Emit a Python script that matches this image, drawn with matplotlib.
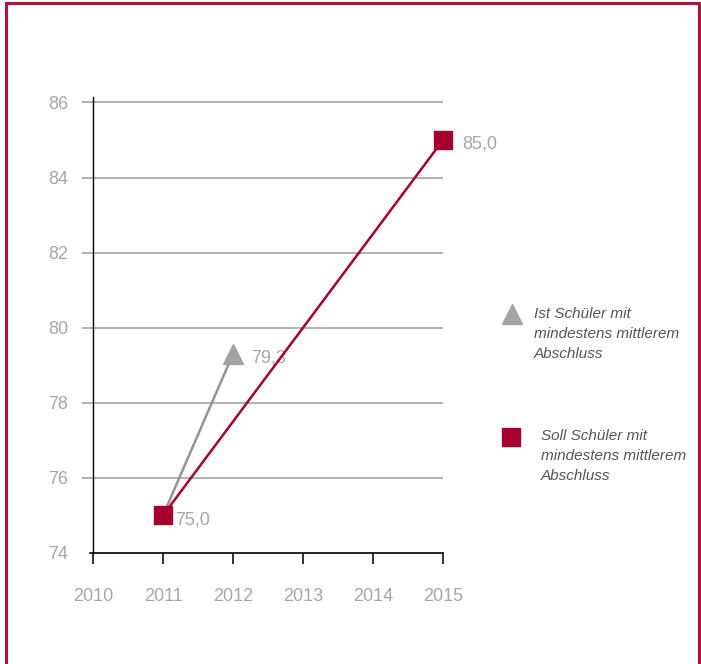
import matplotlib.pyplot as plt
from matplotlib.lines import Line2D

# Schüler mit mindestens mittlerem Abschluss (in %)
years = [2010, 2011, 2012, 2013, 2014, 2015]
ist_years = [2011, 2012]
ist_values = [75.0, 79.3]
soll_years = [2011, 2015]
soll_values = [75.0, 85.0]
y_ticks = [74, 76, 78, 80, 82, 84, 86]

legend_ist = "Ist Schüler mit\nmindestens mittlerem\nAbschluss"
legend_soll = "Soll Schüler mit\nmindestens mittlerem\nAbschluss"

RED = "#a6002f"
GRAY_MARK = "#a3a3a6"
GRAY_TEXT = "#a6a6a6"

plt.rcParams["font.family"] = ["Liberation Sans", "DejaVu Sans"]

fig = plt.figure(figsize=(7.01, 6.64), dpi=100)
ax = fig.add_axes([0.117, 0.1672, 0.515, 0.687])

ax.set_xlim(2009.843, 2015)
ax.set_ylim(74, 86.15)

# horizontal guide lines (the 74 line is the x axis itself)
for y in y_ticks[1:]:
    ax.axhline(y, color="#9c9c9c", linewidth=1.1, zorder=1)

ax.plot(ist_years, ist_values, color="#949494", linewidth=1.8, zorder=2)
ax.plot(ist_years[-1:], ist_values[-1:], marker="^", markersize=14,
        color=GRAY_MARK, linestyle="none", zorder=3, clip_on=False)
ax.plot(soll_years, soll_values, color=RED, linewidth=1.8, zorder=4)
ax.plot(soll_years, soll_values, marker="s", markersize=13.5, color=RED,
        linestyle="none", zorder=5, clip_on=False)

def fmt(v):
    return f"{v:.1f}".replace(".", ",")

label_kw = dict(textcoords="offset points", va="center", ha="left",
                color=GRAY_TEXT, fontsize=13)
ax.annotate(fmt(soll_values[0]), (soll_years[0], soll_values[0]), xytext=(9, -3), **label_kw)
ax.annotate(fmt(ist_values[1]), (ist_years[1], ist_values[1]), xytext=(13, -3), **label_kw)
ax.annotate(fmt(soll_values[1]), (soll_years[1], soll_values[1]), xytext=(14, -3), **label_kw)

# axes styling
for side in ("top", "right"):
    ax.spines[side].set_visible(False)
ax.spines["left"].set_position(("data", 2010))
ax.spines["left"].set_color("black")
ax.spines["left"].set_linewidth(1.0)
ax.spines["bottom"].set_bounds(2009.96, 2015)
ax.spines["bottom"].set_color("black")
ax.spines["bottom"].set_linewidth(1.2)

ax.set_xticks(years)
ax.set_xticklabels([str(y) for y in years])
ax.set_yticks(y_ticks)
ax.set_yticklabels([str(y) for y in y_ticks])
ax.tick_params(axis="x", length=8, width=1.3, color="#222222", pad=17,
               labelsize=13, labelcolor=GRAY_TEXT)
ax.tick_params(axis="y", length=0, pad=18, labelsize=13, labelcolor=GRAY_TEXT)

# legend drawn by hand to the right of the plot
ax.plot([512 / 701], [(664 - 314) / 664], marker="^", markersize=14, color=GRAY_MARK,
        transform=fig.transFigure, clip_on=False)
ax.plot([511.5 / 701], [(664 - 437) / 664], marker="s", markersize=13.5, color=RED,
        transform=fig.transFigure, clip_on=False)
fig.text(534 / 701, (664 - 334) / 664, legend_ist, style="italic", fontsize=11,
         color="#555555", va="center", ha="left", linespacing=1.55)
fig.text(541 / 701, (664 - 456) / 664, legend_soll, style="italic", fontsize=11,
         color="#555555", va="center", ha="left", linespacing=1.55)

# frame on left, top and right
frame_kw = dict(color="#b0123c", linewidth=2.2, transform=fig.transFigure)
fig.add_artist(Line2D([6 / 701, 6 / 701], [0, 1 - 3 / 664], **frame_kw))
fig.add_artist(Line2D([6 / 701, 699 / 701], [1 - 3 / 664, 1 - 3 / 664], **frame_kw))
fig.add_artist(Line2D([699 / 701, 699 / 701], [0, 1 - 3 / 664], **frame_kw))

fig.savefig("out.png", dpi=100)
